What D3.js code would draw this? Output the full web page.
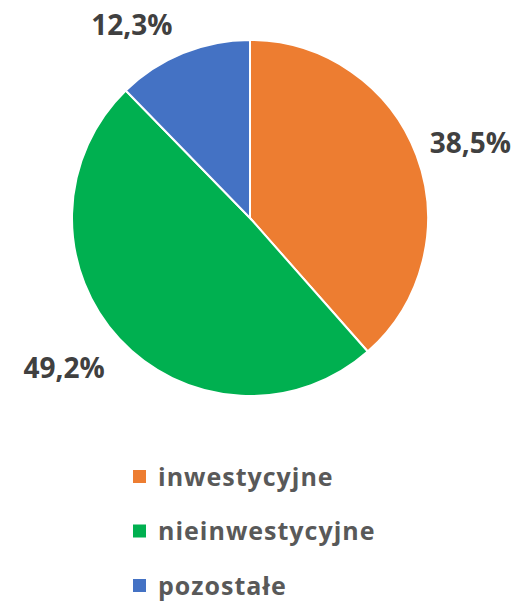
<!DOCTYPE html>
<html>
<head>
<meta charset="utf-8">
<script src="https://cdn.jsdelivr.net/npm/d3@7"></script>
<style>
  body { margin: 0; background: #fff; }
  text { font-family: "Open Sans", sans-serif; font-weight: bold; }
</style>
</head>
<body>
<div id="chart"></div>
<script>
var categories = ["inwestycyjne", "nieinwestycyjne", "pozostałe"];
var values = [38.5, 49.2, 12.3];
var colors = ["#ED7D31", "#00B050", "#4472C4"];

var width = 518, height = 601;
var cx = 250, cy = 218, radius = 178;

var svg = d3.select("#chart").append("svg")
    .attr("width", width)
    .attr("height", height);

var pie = d3.pie().sort(null).value(d => d);
var arcs = pie(values);

var arc = d3.arc().innerRadius(0).outerRadius(radius);
var labelArc = d3.arc().innerRadius(radius + 12).outerRadius(radius + 12);

var g = svg.append("g").attr("transform", "translate(" + cx + "," + cy + ")");

g.selectAll(".slice")
    .data(arcs)
    .enter()
    .append("path")
    .attr("class", "slice")
    .attr("d", arc)
    .attr("fill", (d, i) => colors[i])
    .attr("stroke", "#fff")
    .attr("stroke-width", 2);

// data labels, placed outside like excel does
var fmt = v => d3.format(".1f")(v).replace(".", ",") + "%";
g.selectAll(".lbl")
    .data(arcs)
    .enter()
    .append("text")
    .attr("class", "lbl")
    .each(function (d) {
        var a = (d.startAngle + d.endAngle) / 2;
        var p = labelArc.centroid(d);
        var s = Math.sin(a), c = Math.cos(a);
        var t = d3.select(this);
        t.attr("x", p[0] + (s > 0 ? 2 : -6))
         .attr("text-anchor", s > 0 ? "start" : "end");
        if (c > 0.5) t.attr("y", p[1] - 7);
        else if (c < -0.5) t.attr("y", p[1] + 31);
        else t.attr("y", p[1] + 2);
    })
    .attr("fill", "#404040")
    .attr("font-size", "28px")
    .text(d => fmt(d.data));

// legend
var ly = d3.scalePoint().domain(categories).range([477, 586]);
var legend = svg.selectAll(".legend")
    .data(categories)
    .enter()
    .append("g")
    .attr("class", "legend")
    .attr("transform", d => "translate(133," + ly(d) + ")");

legend.append("rect")
    .attr("x", 0)
    .attr("y", -7)
    .attr("width", 13)
    .attr("height", 13)
    .attr("fill", (d, i) => colors[i]);

legend.append("text")
    .attr("x", 25)
    .attr("y", 0)
    .attr("dy", "0.35em")
    .attr("fill", "#595959")
    .attr("font-size", "25px")
    .attr("letter-spacing", "1px")
    .text(d => d);
</script>
</body>
</html>
